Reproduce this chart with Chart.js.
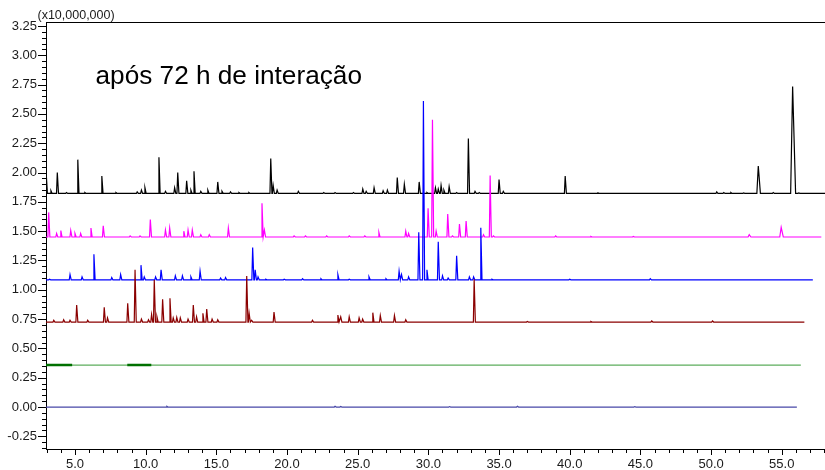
<!DOCTYPE html>
<html>
<head>
<meta charset="utf-8">
<script src="https://cdn.jsdelivr.net/npm/chart.js@4.4.1/dist/chart.umd.min.js"></script>
<style>
  body { margin: 0; background: #fff; }
  #wrap { position: relative; width: 825px; height: 470px; }
  #myChart { display: block; }
  .txt { position: absolute; font-family: Arial, "Liberation Sans", sans-serif; color: #000; white-space: nowrap; }
  #scale-note { left: 37.5px; top: 8.7px; font-size: 12.5px; line-height: 12.5px; color: #1a1a1a; }
  #title { left: 95.5px; top: 62.3px; font-size: 26.2px; line-height: 26px; }
</style>
</head>
<body>
<div id="wrap">
  <canvas id="myChart" width="825" height="470"></canvas>
  <div class="txt" id="scale-note">(x10,000,000)</div>
  <div class="txt" id="title">após 72 h de interação</div>
</div>
<script>
//eixos
const xTickValues = [5, 10, 15, 20, 25, 30, 35, 40, 45, 50, 55];
const yTickValues = [-0.25, 0, 0.25, 0.5, 0.75, 1, 1.25, 1.5, 1.75, 2, 2.25, 2.5, 2.75, 3, 3.25];

const blackBase = 1.822;
const blackStart = 2.02;
const blackEnd = 58.06;
const blackPeaks = [
  [3.3, 1.845], [3.75, 2.0], [4.4, 1.83], [5.2, 2.11], [5.7, 1.83], [6.9, 1.97], [7.9, 1.83],
  [9.4, 1.835], [9.7, 1.85], [9.95, 1.87], [10.94, 2.13], [11.4, 1.84], [12.05, 1.87], [12.27, 2.0],
  [12.9, 1.93], [13.2, 1.85], [13.42, 2.01], [13.9, 1.84], [14.4, 1.85], [15.1, 1.92], [15.4, 1.84],
  [16.0, 1.835], [16.6, 1.83], [17.3, 1.83], [18.85, 2.12], [19.02, 1.89], [19.3, 1.85], [20.8, 1.84],
  [22.6, 1.83], [23.4, 1.83], [24.7, 1.83], [25.36, 1.86], [25.6, 1.84], [26.16, 1.87], [26.8, 1.845],
  [27.1, 1.85], [27.8, 1.957], [28.3, 1.9], [29.35, 1.92], [29.9, 1.83], [30.5, 1.87], [30.7, 1.86],
  [30.9, 1.89], [31.1, 1.85], [31.47, 1.88], [32.0, 1.83], [32.83, 2.29], [33.3, 1.84], [33.6, 1.83],
  [35.0, 1.94], [35.3, 1.84], [39.68, 1.97], [42.0, 1.826], [50.4, 1.835], [50.9, 1.83], [51.4, 1.83],
  [52.3, 1.826], [53.34, 2.056, 0.25], [54.4, 1.83], [55.77, 2.733, 0.35], [56.2, 1.826]
];

const magentaBase = 1.45;
const magentaEnd = 57.8;
const magentaPeaks = [
  [3.14, 1.66], [3.7, 1.48], [4.0, 1.505], [4.7, 1.505], [5.0, 1.48], [5.4, 1.48], [6.13, 1.527],
  [7.0, 1.545], [8.9, 1.46], [9.6, 1.46], [10.33, 1.6], [11.4, 1.51], [11.7, 1.527], [12.7, 1.5],
  [13.0, 1.51], [13.3, 1.51], [13.9, 1.47], [14.5, 1.47], [15.85, 1.527], [18.23, 1.738], [18.4, 1.51],
  [20.5, 1.46], [21.3, 1.46], [22.8, 1.46], [24.4, 1.46], [25.5, 1.46], [26.5, 1.49], [28.4, 1.5],
  [28.6, 1.48], [29.98, 1.695], [30.29, 2.45], [30.55, 1.5], [31.37, 1.647], [31.7, 1.46], [32.2, 1.56],
  [32.67, 1.587], [33.9, 1.47], [34.37, 1.974], [34.6, 1.46], [39.0, 1.46], [41.5, 1.455], [44.5, 1.455],
  [52.7, 1.47, 0.2], [54.96, 1.533, 0.25]
];

const blueBase = 1.085;
const blueEnd = 57.2;
const bluePeaks = [
  [3.2, 1.09], [4.65, 1.13], [5.5, 1.11], [6.34, 1.303], [7.6, 1.105], [8.23, 1.13], [9.67, 1.21],
  [9.9, 1.11], [10.7, 1.11], [11.09, 1.17], [12.1, 1.12], [12.6, 1.12], [13.2, 1.11], [13.85, 1.16],
  [15.3, 1.1], [15.65, 1.105], [17.57, 1.36], [17.75, 1.17], [17.95, 1.11], [18.5, 1.09], [19.8, 1.09],
  [21.1, 1.095], [22.4, 1.095], [23.6, 1.13], [24.4, 1.09], [25.8, 1.11], [27.0, 1.095], [27.93, 1.16],
  [28.1, 1.13], [28.6, 1.11], [29.32, 1.49], [29.65, 2.61], [29.9, 1.17], [30.7, 1.41], [31.0, 1.12],
  [31.4, 1.1], [32.0, 1.29], [32.9, 1.11], [33.2, 1.11], [33.71, 1.53], [34.5, 1.09], [40.0, 1.09],
  [45.7, 1.095]
];

const redBase = 0.725;
const redEnd = 56.6;
const redPeaks = [
  [3.5, 0.74], [4.2, 0.745], [4.65, 0.74], [5.12, 0.87], [5.9, 0.74], [7.07, 0.85], [7.3, 0.76],
  [8.73, 0.885], [9.25, 1.17], [9.7, 0.75], [10.2, 0.745], [10.42, 0.79], [10.61, 1.084], [10.8, 0.77],
  [11.2, 0.92], [11.72, 0.928], [11.95, 0.76], [12.2, 0.765], [12.45, 0.76], [13.0, 0.75], [13.37, 0.87],
  [13.6, 0.77], [14.05, 0.8], [14.32, 0.836], [14.7, 0.75], [15.1, 0.745], [17.15, 1.118], [17.32, 0.8],
  [17.5, 0.74], [19.08, 0.81], [21.8, 0.74], [23.6, 0.785], [23.8, 0.77], [24.4, 0.77], [25.1, 0.76],
  [25.35, 0.75], [26.07, 0.805], [26.6, 0.78], [27.6, 0.78], [28.4, 0.745], [33.24, 1.09], [37.0, 0.73],
  [41.5, 0.73], [45.8, 0.735], [50.1, 0.735]
];

const greenBase = 0.358;
const greenEnd = 56.35;
const greenNoisy = [[2.95, 4.8], [8.7, 10.4]];

const navyBase = 0.0;
const navyEnd = 56.07;
const navyPeaks = [[11.5, 0.006], [23.4, 0.006], [23.8, 0.005], [31.5, 0.004], [36.3, 0.006], [44.6, 0.004]];

const xMin = 2.95;
const xMax = 58.06;

//monta o traco com pontos de base ao redor de cada pico
function buildTrace(base, end, peaks, startY) {
  let pts = [{ x: xMin, y: startY !== undefined ? startY : base }];
  if (startY !== undefined) pts.push({ x: xMin + 0.1, y: base });
  peaks.forEach((p) => {
    let w = p[2] || 0.14;
    pts.push({ x: p[0] - w * 0.4, y: base });
    pts.push({ x: p[0], y: p[1] });
    pts.push({ x: p[0] + w * 0.6, y: base });
  });
  pts.push({ x: end, y: base });
  pts.sort((a, b) => a.x - b.x);
  return pts;
}

function buildNoisy(base, ranges) {
  let pts = [];
  ranges.forEach((r) => {
    pts.push({ x: r[0], y: base });
    pts.push({ x: r[1], y: base });
    pts.push({ x: r[1] + 0.01, y: null });
  });
  return pts;
}

//marcas dos eixos (maiores e menores) + linha superior
const axisTicks = {
  id: "axisTicks",
  afterDraw(chart) {
    const c = chart.ctx;
    const area = chart.chartArea;
    const sx = chart.scales.x;
    const sy = chart.scales.y;
    c.save();
    c.fillStyle = "#000";
    //eixo y, a cada 0.05
    for (let i = -7; i <= 65; i++) {
      let y = Math.round(sy.getPixelForValue(i * 0.05));
      if (y < area.top || y > area.bottom) continue;
      let len = i % 5 === 0 ? 8 : 4;
      c.fillRect(Math.round(area.left) - len, y, len, 1);
    }
    //eixo x, a cada 1.0
    for (let t = 3; t <= 58; t++) {
      let x = Math.round(sx.getPixelForValue(t));
      let len = t % 5 === 0 ? 6 : 4;
      c.fillRect(x, Math.round(area.bottom), 1, len);
    }
    //linha superior
    c.fillRect(Math.round(area.left), Math.round(area.top), Math.round(area.right - area.left), 1);
    c.restore();
  },
};

Chart.defaults.font.family = "Arial, 'Liberation Sans', sans-serif";
Chart.defaults.font.size = 13;
Chart.defaults.color = "#1a1a1a";

const lineStyle = { borderWidth: 1.2, pointRadius: 0, tension: 0, fill: false, spanGaps: false };

const ctx = document.getElementById("myChart").getContext("2d");
const myChart = new Chart(ctx, {
  type: "line",
  data: {
    datasets: [
      { ...lineStyle, label: "navy", borderColor: "#4848a8", data: buildTrace(navyBase, navyEnd, navyPeaks) },
      { ...lineStyle, label: "green-noise", borderColor: "#007000", borderWidth: 2.6, data: buildNoisy(greenBase, greenNoisy) },
      { ...lineStyle, label: "green", borderColor: "#5cad5c", data: buildTrace(greenBase, greenEnd, []) },
      { ...lineStyle, label: "red", borderColor: "#8b0000", data: buildTrace(redBase, redEnd, redPeaks) },
      { ...lineStyle, label: "blue", borderColor: "#0000ff", data: buildTrace(blueBase, blueEnd, bluePeaks) },
      { ...lineStyle, label: "magenta", borderColor: "#ff00ff", data: buildTrace(magentaBase, magentaEnd, magentaPeaks) },
      { ...lineStyle, label: "black", borderColor: "#000000", data: buildTrace(blackBase, blackEnd, blackPeaks, blackStart) },
    ],
  },
  options: {
    responsive: false,
    animation: false,
    devicePixelRatio: 1,
    parsing: false,
    layout: { padding: { top: 22, right: 0, left: 0, bottom: 0 } },
    plugins: { legend: { display: false }, tooltip: { enabled: false } },
    scales: {
      x: {
        type: "linear",
        min: xMin,
        max: xMax,
        afterFit: (s) => { s.height = 21; },
        afterBuildTicks: (s) => { s.ticks = xTickValues.map((v) => ({ value: v })); },
        border: { display: true, color: "#000", width: 1 },
        grid: { drawOnChartArea: false, drawTicks: false },
        ticks: { autoSkip: false, maxRotation: 0, padding: 8, callback: (v) => v.toFixed(1) },
      },
      y: {
        type: "linear",
        min: -0.358,
        max: 3.284,
        afterFit: (s) => { s.width = 46; },
        afterBuildTicks: (s) => { s.ticks = yTickValues.map((v) => ({ value: v })); },
        border: { display: true, color: "#000", width: 1 },
        grid: { drawOnChartArea: false, drawTicks: false },
        ticks: { autoSkip: false, padding: 9, callback: (v) => v.toFixed(2) },
      },
    },
  },
  plugins: [axisTicks],
});
</script>
</body>
</html>
